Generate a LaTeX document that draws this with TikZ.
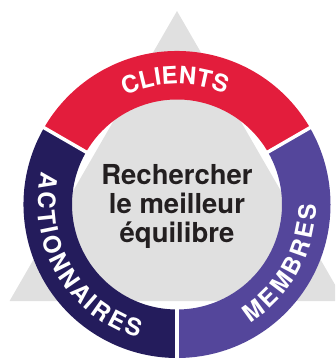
\documentclass[tikz,border=0pt]{standalone}
\usepackage{fontspec}
\setsansfont{TeX Gyre Heros}
\usepackage{tikz}
\usetikzlibrary{decorations.text}
\definecolor{ClientRed}{HTML}{E31D3C}
\definecolor{ActionNavy}{HTML}{241C5C}
\definecolor{MembrePurple}{HTML}{54469B}
\definecolor{BalanceGrey}{HTML}{E0E0E0}
\definecolor{BalanceText}{HTML}{231F20}
\newlength{\RingOuter}
\setlength{\RingOuter}{153.5pt}
\newlength{\RingInner}
\setlength{\RingInner}{105pt}
\newlength{\RingWidth}
\setlength{\RingWidth}{48.5pt}
\tikzset{/Ring/gap/.style={
	draw=white, line width=3.5pt
}}
\tikzset{/Ring/label/.style={decorate, decoration={text along path, text color=white, text align={fit to path}, text={|\sffamily\bfseries\fontsize{24pt}{25pt}\selectfont|#1}}
}}
\tikzset{/Ring/goal/.style={align=center, inner sep=0pt, text=BalanceText, font=\sffamily\bfseries\fontsize{27.5pt}{29pt}\selectfont
}}

\begin{document}
\begin{tikzpicture}[x=1pt, y=1pt]
			\useasboundingbox (0,0) rectangle (335,358);
			\clip (0,0) rectangle (335,358);
			\coordinate (C) at (177,153.5);
			% triangle behind the ring
			\fill[BalanceGrey] (C) ++(90:193.5pt) -- ++(240:335pt) -- ++(0:335pt) -- cycle;
			% the three parts of the ring
			\fill[ClientRed] (C) ++(30:\RingOuter) arc[start angle=30, end angle=150, radius=\RingOuter] -- ++(150:-\RingWidth) arc[start angle=150, end angle=30, radius=\RingInner] -- cycle;
			\fill[ActionNavy] (C) ++(150:\RingOuter) arc[start angle=150, end angle=270, radius=\RingOuter] -- ++(270:-\RingWidth) arc[start angle=270, end angle=150, radius=\RingInner] -- cycle;
			\fill[MembrePurple] (C) ++(270:\RingOuter) arc[start angle=270, end angle=390, radius=\RingOuter] -- ++(30:-\RingWidth) arc[start angle=390, end angle=270, radius=\RingInner] -- cycle;
			\draw[/Ring/gap] (C) ++(30:\RingInner) ++(30:-3pt) -- ++(30:56pt);
			\draw[/Ring/gap] (C) ++(150:\RingInner) ++(150:-3pt) -- ++(150:56pt);
			\draw[/Ring/gap] (C) ++(270:\RingInner) ++(270:-3pt) -- ++(270:56pt);
			% labels on the ring
			\path[/Ring/label=CLIENTS] (C) ++(115.5:120.5pt) arc[start angle=115.5, end angle=66.5, radius=120.5pt];
			\path[/Ring/label=ACTIONNAIRES] (C) ++(166.5:139pt) arc[start angle=166.5, end angle=253.8, radius=139pt];
			\path[/Ring/label=MEMBRES] (C) ++(301.6:139pt) arc[start angle=301.6, end angle=359.8, radius=139pt];
			\node[/Ring/goal, yshift=-1.5pt] (goal) at (C) {Rechercher\\le meilleur\\équilibre};
		\end{tikzpicture}
\end{document}
